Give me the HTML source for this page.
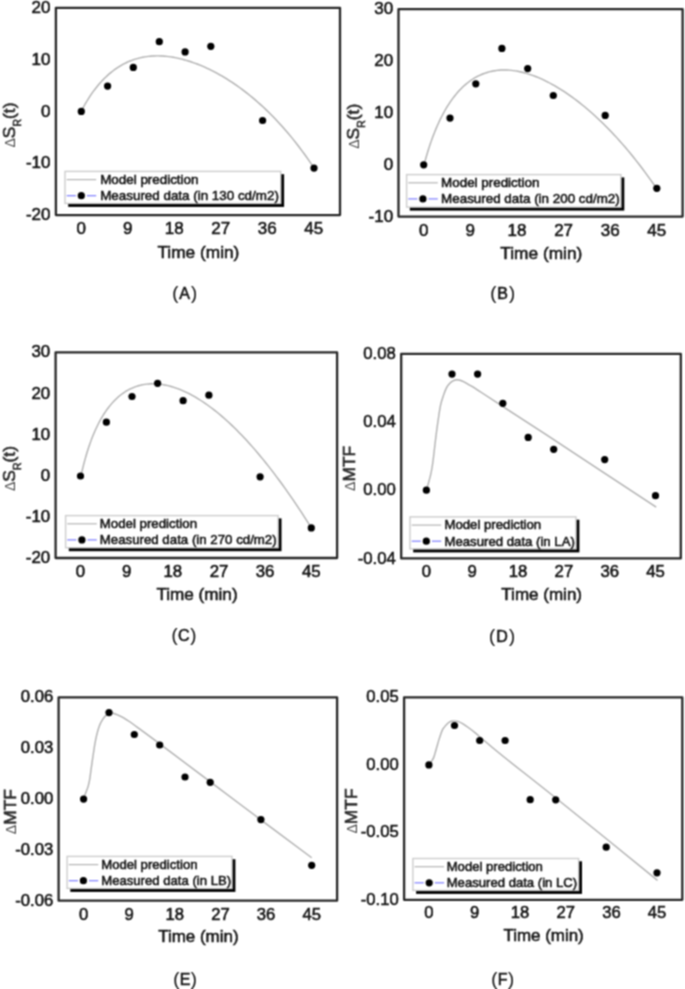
<!DOCTYPE html>
<html lang="en"><head><meta charset="utf-8"><title>Model prediction vs measured data</title>
<style>html,body{margin:0;padding:0;background:#fff}svg{display:block}text{font-family:"Liberation Sans", Arial, Helvetica, sans-serif;fill:#141414;stroke:#141414;stroke-width:.55px;paint-order:stroke fill}.yl{font-size:17.4px;fill:#2a2a2a}.dl{font-size:14px;fill:#4a4a4a;stroke:none}.cap{font-size:16px}.pr{font-size:18.4px;stroke-width:.1px}</style></head><body>
<svg width="685" height="989" viewBox="0 0 685 989">
<defs><filter id="soft" x="0" y="0" width="685" height="989" filterUnits="userSpaceOnUse" color-interpolation-filters="sRGB"><feConvolveMatrix order="3" kernelMatrix="1 2 1 2 4 2 1 2 1" divisor="16" edgeMode="duplicate" preserveAlpha="false"/></filter></defs><g filter="url(#soft)">
<rect width="685" height="989" fill="#fff"/>
<g id="chartA">
<path d="M81.30 111.40 L81.48 110.93 L81.81 110.24 L82.23 109.40 L82.73 108.43 L83.30 107.37 L83.93 106.22 L84.62 104.99 L85.36 103.71 L86.14 102.37 L86.97 100.99 L87.84 99.58 L88.75 98.14 L89.70 96.67 L90.69 95.19 L91.71 93.70 L92.77 92.20 L93.86 90.71 L94.99 89.21 L96.15 87.72 L97.33 86.24 L98.55 84.77 L99.80 83.32 L101.07 81.89 L102.38 80.48 L103.71 79.10 L105.06 77.74 L106.45 76.41 L107.86 75.12 L109.29 73.85 L110.75 72.62 L112.24 71.43 L113.75 70.27 L115.28 69.15 L116.84 68.08 L118.42 67.04 L120.02 66.04 L121.64 65.09 L123.29 64.18 L124.96 63.32 L126.65 62.50 L128.36 61.73 L130.09 61.00 L131.85 60.33 L133.62 59.69 L135.41 59.11 L137.23 58.57 L139.06 58.09 L140.91 57.65 L142.79 57.25 L144.68 56.91 L146.59 56.62 L148.52 56.37 L150.47 56.18 L152.43 56.03 L154.42 55.93 L156.42 55.88 L158.44 55.88 L160.48 55.93 L162.54 56.03 L164.61 56.18 L166.70 56.37 L168.81 56.62 L170.94 56.91 L173.08 57.25 L175.24 57.64 L177.42 58.08 L179.61 58.57 L181.82 59.11 L184.04 59.70 L186.28 60.33 L188.54 61.02 L190.82 61.75 L193.10 62.54 L195.41 63.37 L197.73 64.26 L200.07 65.20 L202.42 66.18 L204.79 67.22 L207.17 68.31 L209.57 69.45 L211.98 70.65 L214.41 71.90 L216.85 73.20 L219.31 74.56 L221.78 75.97 L224.26 77.44 L226.76 78.97 L229.28 80.55 L231.81 82.20 L234.35 83.90 L236.91 85.67 L239.48 87.50 L242.07 89.40 L244.67 91.36 L247.28 93.39 L249.91 95.49 L252.55 97.66 L255.21 99.90 L257.87 102.21 L260.56 104.61 L263.25 107.08 L265.96 109.63 L268.68 112.26 L271.42 114.98 L274.17 117.79 L276.93 120.69 L279.70 123.68 L282.49 126.76 L285.29 129.95 L288.11 133.24 L290.93 136.63 L293.77 140.13 L296.62 143.74 L299.49 147.46 L302.37 151.30 L305.26 155.27 L308.16 159.36 L311.07 163.58 L314.00 167.93" fill="none" stroke="#b0b0b0" stroke-width="1.4" stroke-linejoin="round"/>
<circle cx="81.3" cy="111.4" r="3.6" fill="#000"/>
<circle cx="107.6" cy="86.1" r="3.6" fill="#000"/>
<circle cx="133.3" cy="67.4" r="3.6" fill="#000"/>
<circle cx="159.3" cy="41.7" r="3.6" fill="#000"/>
<circle cx="185.1" cy="51.9" r="3.6" fill="#000"/>
<circle cx="210.8" cy="46.3" r="3.6" fill="#000"/>
<circle cx="262.6" cy="120.5" r="3.6" fill="#000"/>
<circle cx="314.0" cy="168.1" r="3.6" fill="#000"/>
<rect x="68.2" y="174.2" width="215.9" height="32.7" fill="#000"/>
<rect x="65.0" y="171.4" width="215.7" height="32.0" fill="#fff" stroke="#cdcdcd" stroke-width="1.4"/>
<line x1="66.7" y1="179.6" x2="96.2" y2="179.6" stroke="#b4b4b4" stroke-width="1.2"/>
<line x1="66.7" y1="195.7" x2="75.8" y2="195.7" stroke="#7c7cff" stroke-width="1.2"/>
<line x1="86.9" y1="195.7" x2="96.2" y2="195.7" stroke="#7c7cff" stroke-width="1.2"/>
<circle cx="81.3" cy="195.7" r="3.6" fill="#000"/>
<text class="lg" font-size="13.40" transform="translate(100.2 183.9)">Model prediction</text>
<text class="lg" font-size="13.40" transform="translate(100.2 200.0)">Measured data (in 130 cd/m2)</text>
<rect x="55.9" y="7.8" width="284.1" height="207.3" fill="none" stroke="#262626" stroke-width="2.3" stroke-linejoin="round"/>
<text class="tk" font-size="16.99" text-anchor="end" x="50.5" y="12.8">20</text>
<text class="tk" font-size="16.99" text-anchor="end" x="50.5" y="64.7">10</text>
<text class="tk" font-size="16.99" text-anchor="end" x="50.5" y="116.5">0</text>
<text class="tk" font-size="16.99" text-anchor="end" x="50.5" y="168.4">-10</text>
<text class="tk" font-size="16.99" text-anchor="end" x="50.5" y="220.2">-20</text>
<text class="tk" font-size="16.99" text-anchor="middle" x="81.3" y="233.7">0</text>
<text class="tk" font-size="16.99" text-anchor="middle" x="127.8" y="233.7">9</text>
<text class="tk" font-size="16.99" text-anchor="middle" x="174.3" y="233.7">18</text>
<text class="tk" font-size="16.99" text-anchor="middle" x="220.8" y="233.7">27</text>
<text class="tk" font-size="16.99" text-anchor="middle" x="267.3" y="233.7">36</text>
<text class="tk" font-size="16.99" text-anchor="middle" x="313.8" y="233.7">45</text>
<text class="ax" font-size="17.29" text-anchor="middle" x="198.4" y="257.8">Time (min)</text>
<text class="yl" text-anchor="middle" transform="translate(8.3 125.0) rotate(-90)" x="0" y="6.3"><tspan class="dl">Δ</tspan>S<tspan font-size="10.5" dy="6.8">R</tspan><tspan dy="-6.8">(t)</tspan></text>
<text class="cap" text-anchor="middle" letter-spacing="0.9" x="185.1" y="298.6"><tspan class="pr">(</tspan>A<tspan class="pr">)</tspan></text>
</g>
<g id="chartB">
<path d="M423.69 164.88 L423.87 164.97 L424.20 163.99 L424.63 162.54 L425.13 160.75 L425.70 158.73 L426.33 156.53 L427.02 154.19 L427.75 151.75 L428.54 149.23 L429.37 146.65 L430.24 144.03 L431.15 141.38 L432.10 138.72 L433.09 136.05 L434.12 133.39 L435.18 130.74 L436.27 128.11 L437.40 125.51 L438.55 122.94 L439.74 120.41 L440.96 117.92 L442.21 115.47 L443.48 113.07 L444.79 110.73 L446.12 108.44 L447.48 106.20 L448.87 104.03 L450.28 101.91 L451.71 99.86 L453.17 97.87 L454.66 95.95 L456.17 94.09 L457.71 92.30 L459.26 90.57 L460.84 88.92 L462.45 87.33 L464.07 85.82 L465.72 84.37 L467.39 82.99 L469.08 81.69 L470.80 80.45 L472.53 79.28 L474.28 78.18 L476.06 77.16 L477.85 76.20 L479.67 75.31 L481.50 74.50 L483.36 73.75 L485.23 73.07 L487.13 72.46 L489.04 71.92 L490.97 71.44 L492.92 71.03 L494.89 70.69 L496.88 70.42 L498.88 70.21 L500.90 70.07 L502.94 70.00 L505.00 69.99 L507.08 70.04 L509.17 70.16 L511.28 70.35 L513.41 70.59 L515.55 70.90 L517.72 71.28 L519.89 71.72 L522.09 72.21 L524.30 72.78 L526.53 73.40 L528.77 74.08 L531.03 74.83 L533.31 75.64 L535.60 76.51 L537.90 77.44 L540.23 78.43 L542.57 79.48 L544.92 80.59 L547.29 81.76 L549.67 83.00 L552.07 84.29 L554.49 85.65 L556.92 87.07 L559.36 88.55 L561.82 90.09 L564.29 91.69 L566.78 93.36 L569.29 95.08 L571.80 96.87 L574.34 98.73 L576.88 100.65 L579.44 102.63 L582.02 104.68 L584.60 106.80 L587.21 108.98 L589.82 111.23 L592.45 113.55 L595.10 115.93 L597.75 118.39 L600.43 120.92 L603.11 123.52 L605.81 126.20 L608.52 128.95 L611.24 131.77 L613.98 134.67 L616.73 137.65 L619.50 140.71 L622.27 143.85 L625.06 147.08 L627.87 150.38 L630.68 153.78 L633.51 157.26 L636.35 160.83 L639.21 164.49 L642.08 168.25 L644.96 172.10 L647.85 176.05 L650.75 180.10 L653.67 184.25 L656.60 188.50" fill="none" stroke="#b0b0b0" stroke-width="1.4" stroke-linejoin="round"/>
<circle cx="423.7" cy="164.8" r="3.6" fill="#000"/>
<circle cx="450.0" cy="118.1" r="3.6" fill="#000"/>
<circle cx="475.8" cy="83.8" r="3.6" fill="#000"/>
<circle cx="501.9" cy="48.4" r="3.6" fill="#000"/>
<circle cx="527.7" cy="68.6" r="3.6" fill="#000"/>
<circle cx="553.3" cy="95.5" r="3.6" fill="#000"/>
<circle cx="605.2" cy="115.4" r="3.6" fill="#000"/>
<circle cx="656.8" cy="188.3" r="3.6" fill="#000"/>
<rect x="409.8" y="177.4" width="214.5" height="33.2" fill="#000"/>
<rect x="406.6" y="174.6" width="214.3" height="32.5" fill="#fff" stroke="#cdcdcd" stroke-width="1.4"/>
<line x1="408.3" y1="182.8" x2="437.8" y2="182.8" stroke="#b4b4b4" stroke-width="1.2"/>
<line x1="408.3" y1="198.9" x2="417.4" y2="198.9" stroke="#7c7cff" stroke-width="1.2"/>
<line x1="428.5" y1="198.9" x2="437.8" y2="198.9" stroke="#7c7cff" stroke-width="1.2"/>
<circle cx="422.9" cy="198.9" r="3.6" fill="#000"/>
<text class="lg" font-size="13.40" transform="translate(441.1 187.1)">Model prediction</text>
<text class="lg" font-size="13.40" transform="translate(441.1 203.2)">Measured data (in 200 cd/m2)</text>
<rect x="398.5" y="9.2" width="284.1" height="207.4" fill="none" stroke="#262626" stroke-width="2.3" stroke-linejoin="round"/>
<text class="tk" font-size="16.99" text-anchor="end" x="393.1" y="14.3">30</text>
<text class="tk" font-size="16.99" text-anchor="end" x="393.1" y="66.1">20</text>
<text class="tk" font-size="16.99" text-anchor="end" x="393.1" y="118.0">10</text>
<text class="tk" font-size="16.99" text-anchor="end" x="393.1" y="169.8">0</text>
<text class="tk" font-size="16.99" text-anchor="end" x="393.1" y="221.7">-10</text>
<text class="tk" font-size="16.99" text-anchor="middle" x="423.7" y="235.8">0</text>
<text class="tk" font-size="16.99" text-anchor="middle" x="470.3" y="235.8">9</text>
<text class="tk" font-size="16.99" text-anchor="middle" x="516.9" y="235.8">18</text>
<text class="tk" font-size="16.99" text-anchor="middle" x="563.6" y="235.8">27</text>
<text class="tk" font-size="16.99" text-anchor="middle" x="610.2" y="235.8">36</text>
<text class="tk" font-size="16.99" text-anchor="middle" x="656.8" y="235.8">45</text>
<text class="ax" font-size="17.29" text-anchor="middle" x="541.3" y="258.8">Time (min)</text>
<text class="yl" text-anchor="middle" transform="translate(352.4 126.3) rotate(-90)" x="0" y="6.3"><tspan class="dl">Δ</tspan>S<tspan font-size="10.5" dy="6.8">R</tspan><tspan dy="-6.8">(t)</tspan></text>
<text class="cap" text-anchor="middle" letter-spacing="0.9" x="503.1" y="299.0"><tspan class="pr">(</tspan>B<tspan class="pr">)</tspan></text>
</g>
<g id="chartC">
<path d="M80.48 475.99 L80.66 476.48 L80.98 475.45 L81.40 473.79 L81.90 471.72 L82.46 469.38 L83.08 466.85 L83.76 464.18 L84.49 461.41 L85.26 458.58 L86.08 455.71 L86.94 452.82 L87.84 449.93 L88.78 447.06 L89.76 444.20 L90.77 441.38 L91.81 438.60 L92.89 435.86 L94.00 433.18 L95.14 430.55 L96.32 427.98 L97.52 425.48 L98.75 423.04 L100.01 420.67 L101.30 418.37 L102.61 416.14 L103.95 413.99 L105.32 411.91 L106.71 409.90 L108.13 407.97 L109.57 406.12 L111.04 404.34 L112.53 402.64 L114.04 401.01 L115.58 399.46 L117.14 397.98 L118.72 396.58 L120.32 395.25 L121.95 394.00 L123.60 392.82 L125.27 391.72 L126.96 390.69 L128.67 389.74 L130.40 388.85 L132.15 388.04 L133.92 387.30 L135.71 386.64 L137.52 386.04 L139.35 385.51 L141.20 385.06 L143.07 384.67 L144.96 384.36 L146.86 384.11 L148.79 383.93 L150.73 383.82 L152.69 383.78 L154.67 383.81 L156.66 383.91 L158.68 384.07 L160.71 384.30 L162.76 384.60 L164.82 384.97 L166.90 385.40 L169.00 385.90 L171.12 386.47 L173.25 387.11 L175.40 387.81 L177.56 388.58 L179.75 389.42 L181.94 390.32 L184.16 391.29 L186.39 392.33 L188.63 393.43 L190.89 394.61 L193.17 395.85 L195.46 397.16 L197.77 398.54 L200.09 399.98 L202.43 401.50 L204.78 403.08 L207.15 404.74 L209.53 406.46 L211.93 408.25 L214.34 410.11 L216.77 412.04 L219.21 414.05 L221.66 416.12 L224.13 418.26 L226.62 420.48 L229.12 422.77 L231.63 425.13 L234.15 427.56 L236.69 430.07 L239.25 432.64 L241.81 435.29 L244.40 438.02 L246.99 440.82 L249.60 443.69 L252.22 446.64 L254.86 449.66 L257.51 452.76 L260.17 455.93 L262.84 459.18 L265.53 462.50 L268.23 465.90 L270.95 469.37 L273.67 472.92 L276.41 476.55 L279.17 480.25 L281.93 484.03 L284.71 487.89 L287.50 491.83 L290.31 495.84 L293.12 499.92 L295.95 504.09 L298.79 508.33 L301.65 512.64 L304.51 517.04 L307.39 521.51 L310.28 526.05" fill="none" stroke="#b0b0b0" stroke-width="1.4" stroke-linejoin="round"/>
<circle cx="80.5" cy="476.0" r="3.6" fill="#000"/>
<circle cx="106.4" cy="422.2" r="3.6" fill="#000"/>
<circle cx="132.0" cy="396.5" r="3.6" fill="#000"/>
<circle cx="157.6" cy="383.3" r="3.6" fill="#000"/>
<circle cx="183.1" cy="400.7" r="3.6" fill="#000"/>
<circle cx="208.9" cy="395.2" r="3.6" fill="#000"/>
<circle cx="260.1" cy="476.8" r="3.6" fill="#000"/>
<circle cx="311.3" cy="527.9" r="3.6" fill="#000"/>
<rect x="68.8" y="518.4" width="212.7" height="32.8" fill="#000"/>
<rect x="65.6" y="515.6" width="212.5" height="32.1" fill="#fff" stroke="#cdcdcd" stroke-width="1.4"/>
<line x1="67.3" y1="523.8" x2="96.8" y2="523.8" stroke="#b4b4b4" stroke-width="1.2"/>
<line x1="67.3" y1="539.9" x2="76.4" y2="539.9" stroke="#7c7cff" stroke-width="1.2"/>
<line x1="87.5" y1="539.9" x2="96.8" y2="539.9" stroke="#7c7cff" stroke-width="1.2"/>
<circle cx="81.9" cy="539.9" r="3.6" fill="#000"/>
<text class="lg" font-size="13.27" transform="translate(99.7 528.1)">Model prediction</text>
<text class="lg" font-size="13.27" transform="translate(99.7 544.2)">Measured data (in 270 cd/m2)</text>
<rect x="55.6" y="352.3" width="281.5" height="205.7" fill="none" stroke="#262626" stroke-width="2.3" stroke-linejoin="round"/>
<text class="tk" font-size="16.84" text-anchor="end" x="50.2" y="357.4">30</text>
<text class="tk" font-size="16.84" text-anchor="end" x="50.2" y="398.5">20</text>
<text class="tk" font-size="16.84" text-anchor="end" x="50.2" y="439.7">10</text>
<text class="tk" font-size="16.84" text-anchor="end" x="50.2" y="480.8">0</text>
<text class="tk" font-size="16.84" text-anchor="end" x="50.2" y="522.0">-10</text>
<text class="tk" font-size="16.84" text-anchor="end" x="50.2" y="563.1">-20</text>
<text class="tk" font-size="16.84" text-anchor="middle" x="80.5" y="576.6">0</text>
<text class="tk" font-size="16.84" text-anchor="middle" x="126.7" y="576.6">9</text>
<text class="tk" font-size="16.84" text-anchor="middle" x="172.8" y="576.6">18</text>
<text class="tk" font-size="16.84" text-anchor="middle" x="219.0" y="576.6">27</text>
<text class="tk" font-size="16.84" text-anchor="middle" x="265.1" y="576.6">36</text>
<text class="tk" font-size="16.84" text-anchor="middle" x="311.3" y="576.6">45</text>
<text class="ax" font-size="17.14" text-anchor="middle" x="197.0" y="599.8">Time (min)</text>
<text class="yl" text-anchor="middle" transform="translate(8.4 468.5) rotate(-90)" x="0" y="6.3"><tspan class="dl">Δ</tspan>S<tspan font-size="10.5" dy="6.8">R</tspan><tspan dy="-6.8">(t)</tspan></text>
<text class="cap" text-anchor="middle" letter-spacing="0.5" x="184.1" y="641.2"><tspan class="pr">(</tspan>C<tspan class="pr">)</tspan></text>
</g>
<g id="chartD">
<path d="M426.39 490.26 C426.70 489.15 427.59 486.15 428.29 483.62 C428.98 481.09 429.93 477.77 430.56 475.08 C431.20 472.39 431.61 470.33 432.08 467.49 C432.56 464.64 432.94 461.79 433.41 458.00 C433.88 454.20 434.36 449.46 434.93 444.71 C435.50 439.97 436.19 434.27 436.83 429.53 C437.46 424.78 438.09 420.36 438.72 416.24 C439.36 412.13 439.83 408.34 440.62 404.86 C441.41 401.38 442.52 398.15 443.47 395.37 C444.42 392.58 445.37 390.05 446.32 388.15 C447.26 386.26 448.05 385.18 449.16 383.98 C450.27 382.78 451.63 381.64 452.96 380.94 C454.29 380.25 455.71 379.84 457.13 379.80 C458.56 379.77 459.98 380.21 461.50 380.75 C463.02 381.29 464.50 382.08 466.24 383.03 C467.98 383.98 469.41 384.86 471.94 386.45 C474.47 388.03 476.30 389.20 481.43 392.52 C486.55 395.84 492.09 399.48 502.68 406.37 C513.28 413.27 519.41 417.10 545.00 433.90 C570.59 450.70 637.67 494.98 656.20 507.20" fill="none" stroke="#b0b0b0" stroke-width="1.4" stroke-linejoin="round"/>
<circle cx="426.4" cy="490.2" r="3.6" fill="#000"/>
<circle cx="452.0" cy="374.1" r="3.6" fill="#000"/>
<circle cx="477.6" cy="374.1" r="3.6" fill="#000"/>
<circle cx="502.8" cy="403.3" r="3.6" fill="#000"/>
<circle cx="528.2" cy="437.4" r="3.6" fill="#000"/>
<circle cx="553.7" cy="449.3" r="3.6" fill="#000"/>
<circle cx="604.7" cy="459.6" r="3.6" fill="#000"/>
<circle cx="655.5" cy="495.7" r="3.6" fill="#000"/>
<rect x="413.2" y="519.7" width="166.2" height="32.7" fill="#000"/>
<rect x="410.0" y="516.9" width="166.0" height="32.0" fill="#fff" stroke="#cdcdcd" stroke-width="1.4"/>
<line x1="411.7" y1="525.1" x2="441.2" y2="525.1" stroke="#b4b4b4" stroke-width="1.2"/>
<line x1="411.7" y1="541.2" x2="420.8" y2="541.2" stroke="#7c7cff" stroke-width="1.2"/>
<line x1="431.9" y1="541.2" x2="441.2" y2="541.2" stroke="#7c7cff" stroke-width="1.2"/>
<circle cx="426.3" cy="541.2" r="3.6" fill="#000"/>
<text class="lg" font-size="13.18" transform="translate(444.5 529.4)">Model prediction</text>
<text class="lg" font-size="13.18" transform="translate(444.5 545.5)">Measured data (in LA)</text>
<rect x="401.2" y="353.8" width="279.6" height="204.6" fill="none" stroke="#262626" stroke-width="2.3" stroke-linejoin="round"/>
<text class="tk" font-size="16.72" text-anchor="end" x="395.8" y="358.9">0.08</text>
<text class="tk" font-size="16.72" text-anchor="end" x="395.8" y="427.1">0.04</text>
<text class="tk" font-size="16.72" text-anchor="end" x="395.8" y="495.3">0.00</text>
<text class="tk" font-size="16.72" text-anchor="end" x="395.8" y="563.5">-0.04</text>
<text class="tk" font-size="16.72" text-anchor="middle" x="426.4" y="576.6">0</text>
<text class="tk" font-size="16.72" text-anchor="middle" x="472.2" y="576.6">9</text>
<text class="tk" font-size="16.72" text-anchor="middle" x="518.0" y="576.6">18</text>
<text class="tk" font-size="16.72" text-anchor="middle" x="563.9" y="576.6">27</text>
<text class="tk" font-size="16.72" text-anchor="middle" x="609.7" y="576.6">36</text>
<text class="tk" font-size="16.72" text-anchor="middle" x="655.5" y="576.6">45</text>
<text class="ax" font-size="17.02" text-anchor="middle" x="541.7" y="599.8">Time (min)</text>
<text class="yl" text-anchor="middle" transform="translate(349.0 468.4) rotate(-90)" x="0" y="6.3"><tspan class="dl">Δ</tspan>MTF</text>
<text class="cap" text-anchor="middle" letter-spacing="1.2" x="502.7" y="641.7"><tspan class="pr">(</tspan>D<tspan class="pr">)</tspan></text>
</g>
<g id="chartE">
<path d="M83.39 799.07 C83.77 798.06 84.87 795.12 85.66 793.00 C86.46 790.88 87.47 788.57 88.13 786.35 C88.80 784.14 89.18 782.40 89.65 779.71 C90.12 777.02 90.44 774.02 90.98 770.22 C91.52 766.43 92.24 761.21 92.88 756.94 C93.51 752.67 94.14 748.24 94.77 744.60 C95.41 740.96 95.88 738.27 96.67 735.11 C97.46 731.95 98.57 728.15 99.52 725.62 C100.47 723.09 101.42 721.51 102.37 719.93 C103.32 718.35 104.11 717.18 105.21 716.13 C106.32 715.09 107.74 714.14 109.01 713.66 C110.27 713.19 111.38 713.10 112.80 713.29 C114.23 713.48 115.81 714.08 117.55 714.80 C119.29 715.53 121.35 716.57 123.24 717.65 C125.14 718.73 126.41 719.52 128.94 721.26 C131.47 723.00 133.33 724.36 138.43 728.09 C143.52 731.82 142.38 730.83 159.49 743.65 C176.61 756.47 215.73 785.98 241.10 805.00 C266.47 824.02 299.93 849.00 311.70 857.80" fill="none" stroke="#b0b0b0" stroke-width="1.4" stroke-linejoin="round"/>
<circle cx="83.6" cy="799.1" r="3.6" fill="#000"/>
<circle cx="109.0" cy="712.6" r="3.6" fill="#000"/>
<circle cx="134.3" cy="734.5" r="3.6" fill="#000"/>
<circle cx="159.7" cy="745.0" r="3.6" fill="#000"/>
<circle cx="185.0" cy="777.0" r="3.6" fill="#000"/>
<circle cx="210.2" cy="782.3" r="3.6" fill="#000"/>
<circle cx="260.9" cy="819.6" r="3.6" fill="#000"/>
<circle cx="311.7" cy="865.3" r="3.6" fill="#000"/>
<rect x="70.3" y="859.2" width="165.1" height="32.7" fill="#000"/>
<rect x="67.1" y="856.4" width="164.9" height="32.0" fill="#fff" stroke="#cdcdcd" stroke-width="1.4"/>
<line x1="68.8" y1="864.6" x2="98.3" y2="864.6" stroke="#b4b4b4" stroke-width="1.2"/>
<line x1="68.8" y1="880.7" x2="77.9" y2="880.7" stroke="#7c7cff" stroke-width="1.2"/>
<line x1="89.0" y1="880.7" x2="98.3" y2="880.7" stroke="#7c7cff" stroke-width="1.2"/>
<circle cx="83.4" cy="880.7" r="3.6" fill="#000"/>
<text class="lg" font-size="13.13" transform="translate(101.2 868.9)">Model prediction</text>
<text class="lg" font-size="13.13" transform="translate(101.2 885.0)">Measured data (in LB)</text>
<rect x="58.6" y="697.3" width="278.5" height="203.4" fill="none" stroke="#262626" stroke-width="2.3" stroke-linejoin="round"/>
<text class="tk" font-size="16.66" text-anchor="end" x="53.2" y="702.4">0.06</text>
<text class="tk" font-size="16.66" text-anchor="end" x="53.2" y="753.2">0.03</text>
<text class="tk" font-size="16.66" text-anchor="end" x="53.2" y="804.1">0.00</text>
<text class="tk" font-size="16.66" text-anchor="end" x="53.2" y="855.0">-0.03</text>
<text class="tk" font-size="16.66" text-anchor="end" x="53.2" y="905.8">-0.06</text>
<text class="tk" font-size="16.66" text-anchor="middle" x="83.6" y="919.5">0</text>
<text class="tk" font-size="16.66" text-anchor="middle" x="129.2" y="919.5">9</text>
<text class="tk" font-size="16.66" text-anchor="middle" x="174.8" y="919.5">18</text>
<text class="tk" font-size="16.66" text-anchor="middle" x="220.5" y="919.5">27</text>
<text class="tk" font-size="16.66" text-anchor="middle" x="266.1" y="919.5">36</text>
<text class="tk" font-size="16.66" text-anchor="middle" x="311.7" y="919.5">45</text>
<text class="ax" font-size="16.95" text-anchor="middle" x="198.4" y="941.9">Time (min)</text>
<text class="yl" text-anchor="middle" transform="translate(9.4 811.6) rotate(-90)" x="0" y="6.3"><tspan class="dl">Δ</tspan>MTF</text>
<text class="cap" text-anchor="middle" letter-spacing="0.4" x="185.3" y="984.6"><tspan class="pr">(</tspan>E<tspan class="pr">)</tspan></text>
</g>
<g id="chartF">
<path d="M429.01 764.91 C429.45 764.28 430.91 762.28 431.66 761.11 C432.42 759.94 432.99 759.21 433.56 757.89 C434.13 756.56 434.51 755.04 435.08 753.14 C435.65 751.24 436.35 748.71 436.98 746.50 C437.61 744.28 438.24 741.91 438.88 739.86 C439.51 737.80 440.14 735.90 440.77 734.16 C441.41 732.42 441.88 730.84 442.67 729.42 C443.46 727.99 444.57 726.73 445.52 725.62 C446.47 724.51 447.42 723.50 448.37 722.77 C449.32 722.05 450.26 721.57 451.21 721.26 C452.16 720.94 452.95 720.85 454.06 720.88 C455.17 720.91 456.43 720.97 457.86 721.45 C459.28 721.92 460.86 722.71 462.60 723.72 C464.34 724.74 466.24 726.03 468.29 727.52 C470.35 729.01 472.25 730.43 474.94 732.64 C477.63 734.86 479.68 736.82 484.43 740.80 C489.17 744.79 490.06 745.86 503.41 756.56 C516.75 767.26 538.82 784.36 564.50 805.00 C590.18 825.64 642.00 867.83 657.50 880.40" fill="none" stroke="#b0b0b0" stroke-width="1.4" stroke-linejoin="round"/>
<circle cx="428.9" cy="764.9" r="3.6" fill="#000"/>
<circle cx="454.5" cy="725.5" r="3.6" fill="#000"/>
<circle cx="479.7" cy="740.5" r="3.6" fill="#000"/>
<circle cx="505.1" cy="740.5" r="3.6" fill="#000"/>
<circle cx="530.2" cy="799.7" r="3.6" fill="#000"/>
<circle cx="555.7" cy="799.8" r="3.6" fill="#000"/>
<circle cx="606.2" cy="847.2" r="3.6" fill="#000"/>
<circle cx="657.0" cy="872.8" r="3.6" fill="#000"/>
<rect x="416.1" y="861.3" width="165.9" height="32.6" fill="#000"/>
<rect x="412.9" y="858.5" width="165.7" height="31.9" fill="#fff" stroke="#cdcdcd" stroke-width="1.4"/>
<line x1="414.6" y1="866.7" x2="444.1" y2="866.7" stroke="#b4b4b4" stroke-width="1.2"/>
<line x1="414.6" y1="882.8" x2="423.7" y2="882.8" stroke="#7c7cff" stroke-width="1.2"/>
<line x1="434.8" y1="882.8" x2="444.1" y2="882.8" stroke="#7c7cff" stroke-width="1.2"/>
<circle cx="429.2" cy="882.8" r="3.6" fill="#000"/>
<text class="lg" font-size="13.12" transform="translate(446.7 871.0)">Model prediction</text>
<text class="lg" font-size="13.12" transform="translate(446.7 887.1)">Measured data (in LC)</text>
<rect x="404.1" y="697.3" width="278.2" height="202.5" fill="none" stroke="#262626" stroke-width="2.3" stroke-linejoin="round"/>
<text class="tk" font-size="16.64" text-anchor="end" x="398.7" y="702.4">0.05</text>
<text class="tk" font-size="16.64" text-anchor="end" x="398.7" y="769.9">0.00</text>
<text class="tk" font-size="16.64" text-anchor="end" x="398.7" y="837.4">-0.05</text>
<text class="tk" font-size="16.64" text-anchor="end" x="398.7" y="904.9">-0.10</text>
<text class="tk" font-size="16.64" text-anchor="middle" x="428.9" y="918.4">0</text>
<text class="tk" font-size="16.64" text-anchor="middle" x="474.5" y="918.4">9</text>
<text class="tk" font-size="16.64" text-anchor="middle" x="520.1" y="918.4">18</text>
<text class="tk" font-size="16.64" text-anchor="middle" x="565.8" y="918.4">27</text>
<text class="tk" font-size="16.64" text-anchor="middle" x="611.4" y="918.4">36</text>
<text class="tk" font-size="16.64" text-anchor="middle" x="657.0" y="918.4">45</text>
<text class="ax" font-size="16.93" text-anchor="middle" x="543.6" y="940.6">Time (min)</text>
<text class="yl" text-anchor="middle" transform="translate(350.2 811.0) rotate(-90)" x="0" y="6.3"><tspan class="dl">Δ</tspan>MTF</text>
<text class="cap" text-anchor="middle" letter-spacing="0.4" x="502.8" y="984.6"><tspan class="pr">(</tspan>F<tspan class="pr">)</tspan></text>
</g>
</g></svg></body></html>
